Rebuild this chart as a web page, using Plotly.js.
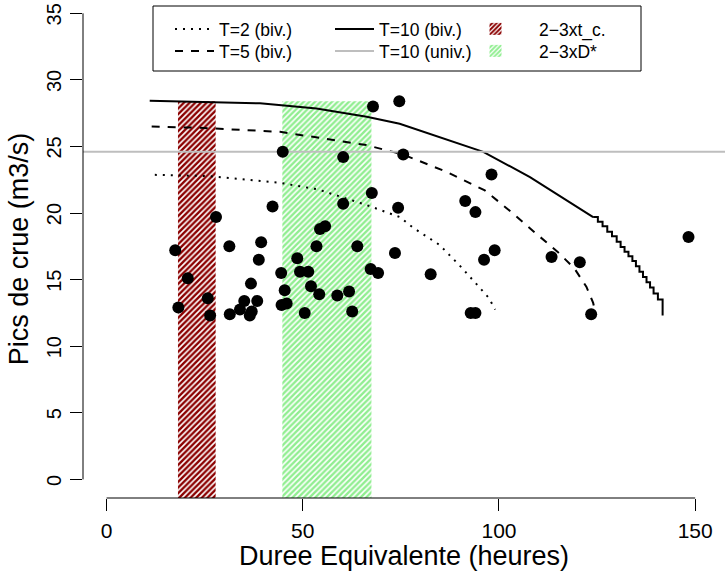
<!DOCTYPE html>
<html><head><meta charset="utf-8">
<script src="https://cdn.plot.ly/plotly-3.0.1.min.js"></script>
<style>html,body{margin:0;padding:0;background:#fff}</style>
</head><body><div id="chart" style="width:725px;height:571px"></div>
<script>
// Observed events
const dureeEq = [67.9, 74.6, 44.9, 60.3, 75.6, 67.6, 60.3, 74.3, 42.3, 27.9, 55.7, 54.4, 17.5, 31.3, 39.4, 53.5, 63.9, 73.5, 38.8, 48.6, 44.5, 49.3, 51.4, 67.3, 69.2, 20.7, 36.8, 52.1, 45.4, 54.2, 58.8, 61.8, 25.8, 35.1, 38.4, 18.3, 34.0, 45.9, 44.6, 37.0, 36.5, 26.4, 31.4, 50.5, 62.6, 98.1, 91.4, 94.0, 82.6, 98.9, 96.2, 113.4, 120.6, 148.3, 92.8, 94.0, 123.5];
const picsCrue = [28.0, 28.4, 24.6, 24.2, 24.4, 21.5, 20.7, 20.4, 20.5, 19.7, 19.0, 18.8, 17.2, 17.5, 17.8, 17.5, 17.5, 17.0, 16.5, 16.6, 15.5, 15.6, 15.6, 15.8, 15.5, 15.1, 14.7, 14.5, 14.2, 13.9, 13.8, 14.1, 13.6, 13.4, 13.4, 12.9, 12.75, 13.2, 13.1, 12.6, 12.3, 12.3, 12.4, 12.5, 12.6, 22.9, 20.9, 20.07, 15.4, 17.2, 16.5, 16.7, 16.3, 18.2, 12.5, 12.5, 12.4];

// Bivariate return-period curves
const t2X = [12.3, 26.3, 44.2, 53.9, 66.3, 74.7, 78.1, 84.9, 90.5, 95.0, 97.5, 99.0];
const t2Y = [22.87, 22.77, 22.27, 21.77, 20.6, 19.7, 18.9, 17.6, 15.9, 14.45, 13.6, 12.75];
const t5X = [11.5, 23.8, 44.2, 53.5, 66.3, 75.5, 86.6, 96.4, 103.6, 108.9, 114.9, 119.2, 122.3, 124.0, 124.6];
const t5Y = [26.5, 26.4, 26.1, 25.7, 25.1, 24.4, 23.1, 21.7, 19.97, 18.6, 17.1, 15.85, 14.45, 13.25, 12.5];
const t10X = [11.0, 27.6, 39.1, 53.5, 66.3, 74.7, 79.8, 96.0, 107.9, 117.2, 124.0];
const t10Y = [28.43, 28.35, 28.24, 27.86, 27.23, 26.7, 26.2, 24.6, 22.7, 20.97, 19.7];
const t10TailX = [124.0, 125.2, 126.4, 127.6, 128.8, 130.0, 131.0, 132.0, 133.0, 134.0, 134.9, 135.8, 136.7, 137.6, 138.5, 139.4, 140.5, 141.7, 141.7];
const t10TailY = [19.7, 19.35, 19.0, 18.6, 18.25, 17.85, 17.45, 17.1, 16.75, 16.4, 16.0, 15.6, 15.2, 14.8, 14.4, 13.95, 13.5, 12.95, 12.3];

// Univariate T=10 level
const t10Univ = 24.6;

// Duration bands
const bandNames = ["2\u22123xt_c.", "2\u22123xD*"];
const bandStart = [18.2, 44.8];
const bandEnd = [27.8, 67.5];
const bandTop = [28.4, 28.4];
const bandColors = ["#8B0000", "#90EE90"];

const xTicks = [0, 50, 100, 150];
const yTicks = [0, 5, 10, 15, 20, 25, 30, 35];
const xRange = [-6, 157.6];
const yRange = [-1.4, 36.0];

const FONT = "Liberation Sans, Arial, Helvetica, sans-serif";
const W = 725, H = 571, L = 83, R = 0, T = 0, B = 73;
const pw = W - L - R, ph = H - T - B;
const px2x = p => (p - L) / pw;
const py2y = p => (H - B - p) / ph;

const traces = [];
bandNames.forEach((nm, i) => {
  traces.push({
    type: "bar", name: nm, legend: i === 0 ? "legend5" : "legend6",
    x: [(bandStart[i] + bandEnd[i]) / 2],
    width: [bandEnd[i] - bandStart[i]],
    base: [yRange[0]],
    y: [bandTop[i] - yRange[0]],
    marker: {color: bandColors[i], line: {width: 0},
      pattern: {shape: "/", fgcolor: bandColors[i], bgcolor: "#ffffff", size: 4, solidity: 0.6}},
    hoverinfo: "skip"
  });
});
traces.push({type: "scatter", mode: "lines", name: "T=2 (biv.)", legend: "legend",
  x: t2X, y: t2Y, line: {color: "black", width: 2, dash: "2px,6px"}});
traces.push({type: "scatter", mode: "lines", name: "T=5 (biv.)", legend: "legend2",
  x: t5X, y: t5Y, line: {color: "black", width: 2, dash: "8px,8px"}});
traces.push({type: "scatter", mode: "lines", name: "T=10 (biv.)", legend: "legend3",
  x: t10X, y: t10Y, line: {color: "black", width: 2}});
traces.push({type: "scatter", mode: "lines", name: "T=10 tail", showlegend: false,
  x: t10TailX, y: t10TailY, line: {color: "black", width: 2, shape: "hv"}});
traces.push({type: "scatter", mode: "lines", name: "T=10 (univ.)", legend: "legend4",
  x: xRange, y: [t10Univ, t10Univ], line: {color: "#BEBEBE", width: 2}});
traces.push({type: "scatter", mode: "markers", name: "obs", showlegend: false,
  x: dureeEq, y: picsCrue, marker: {color: "black", size: 12, line: {width: 0}}});

const row1 = 29, row2 = 51;
function leg(pxText, row, iw) {
  return {
    x: px2x(pxText - iw - 11), xanchor: "left",
    y: py2y(row), yanchor: "middle", valign: "middle",
    bgcolor: "rgba(0,0,0,0)", borderwidth: 0, itemwidth: iw,
    font: {family: FONT, size: 17.5, color: "black"},
    itemclick: false, itemdoubleclick: false
  };
}

const layout = {
  width: W, height: H,
  margin: {l: L, r: R, t: T, b: B, pad: 0},
  paper_bgcolor: "white", plot_bgcolor: "white",
  font: {family: FONT, color: "black"},
  barmode: "overlay",
  xaxis: {range: xRange, tickvals: xTicks, ticktext: xTicks.map(String),
    ticks: "outside", ticklen: 12, tickwidth: 1, tickcolor: "black",
    showline: false, showgrid: false, zeroline: false,
    tickfont: {family: FONT, size: 21, color: "black"}, ticklabelstandoff: 2,
    title: {text: "Duree Equivalente (heures)", font: {family: FONT, size: 27, color: "black"}, standoff: 0}},
  yaxis: {range: yRange, tickvals: yTicks, ticktext: yTicks.map(String), tickangle: -90,
    ticks: "outside", ticklen: 12, tickwidth: 1, tickcolor: "black", ticklabeloverflow: "allow",
    ticklabelshift: 4,
    showline: false, showgrid: false, zeroline: false,
    tickfont: {family: FONT, size: 20, color: "black"}, ticklabelstandoff: 1,
    title: {text: "Pics de crue (m3/s)", font: {family: FONT, size: 27, color: "black"}, standoff: 6}},
  legend: leg(220, row1, 39),
  legend2: leg(220, row2, 39),
  legend3: leg(380, row1, 39),
  legend4: leg(380, row2, 39),
  legend5: leg(540, row1, 77),
  legend6: leg(540, row2, 77),
  shapes: [
    {type: "line", xref: "x", yref: "paper", x0: xTicks[0], x1: xTicks[xTicks.length - 1], y0: 0, y1: 0, line: {color: "black", width: 1}},
    {type: "line", xref: "paper", yref: "y", x0: 0, x1: 0, y0: yTicks[0], y1: yTicks[yTicks.length - 1], line: {color: "black", width: 1}},
    {type: "rect", xref: "paper", yref: "paper", x0: px2x(153), x1: px2x(641), y0: py2y(71), y1: py2y(6), line: {color: "black", width: 1}, fillcolor: "rgba(0,0,0,0)"}
  ],
  showlegend: true
};

Plotly.newPlot("chart", traces, layout, {staticPlot: true, displayModeBar: false});
</script>
</body></html>
